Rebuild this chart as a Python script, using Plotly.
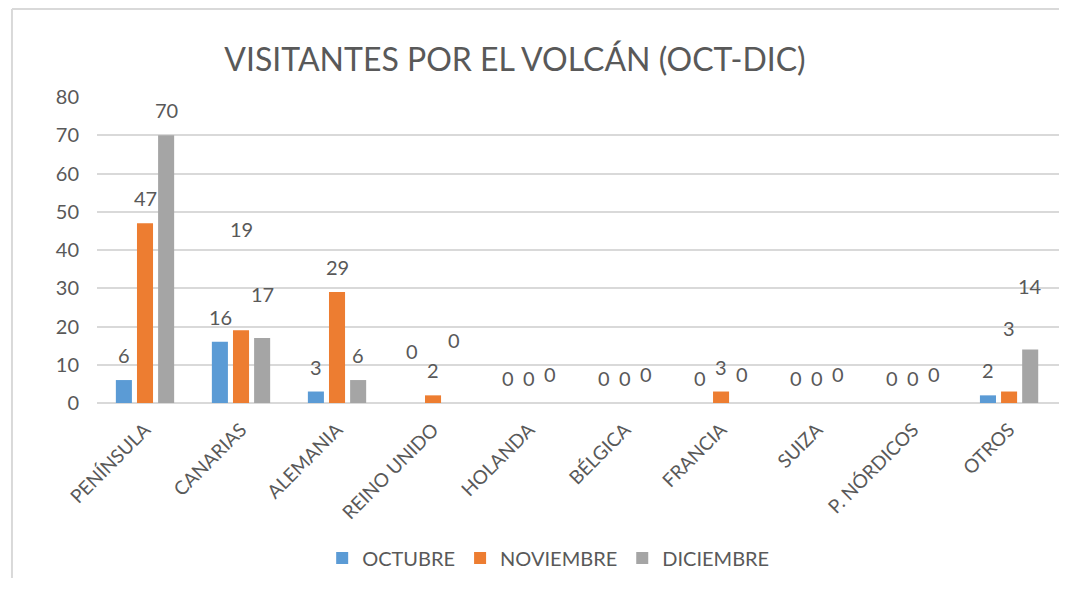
import plotly.graph_objects as go

categories = ["PENÍNSULA", "CANARIAS", "ALEMANIA", "REINO UNIDO", "HOLANDA",
              "BÉLGICA", "FRANCIA", "SUIZA", "P. NÓRDICOS", "OTROS"]
octubre = [6, 16, 3, 0, 0, 0, 0, 0, 0, 2]
noviembre = [47, 19, 29, 2, 0, 0, 3, 0, 0, 3]
diciembre = [70, 17, 6, 0, 0, 0, 0, 0, 0, 14]
y_ticks = [0, 10, 20, 30, 40, 50, 60, 70, 80]

series = [("OCTUBRE", octubre, "#5b9bd5"),
          ("NOVIEMBRE", noviembre, "#ed7d31"),
          ("DICIEMBRE", diciembre, "#a5a5a5")]

# extra lift (in axis units) for data labels that were dragged in the original
label_lift = {(1, 1): 20, (1, 2): 5, (3, 0): 7, (3, 2): 10,
              (9, 1): 10, (9, 2): 10, (4, 2): 1, (5, 2): 1, (7, 2): 1,
              (8, 2): 1, (6, 2): 1}

FONT = "Lato, 'Open Sans', sans-serif"
GRAY = "#595959"
BORDER = "#d9d9d9"

fig = go.Figure()
for name, vals, col in series:
    fig.add_trace(go.Bar(name=name, x=list(range(len(categories))), y=vals,
                         marker=dict(color=col, line=dict(width=0)),
                         hoverinfo="skip"))

shift = [-21, 0, 21]
for s, (name, vals, col) in enumerate(series):
    for i, v in enumerate(vals):
        fig.add_annotation(x=i, y=v + 6.5 + label_lift.get((i, s), 0),
                           text=str(v), showarrow=False, xshift=shift[s],
                           font=dict(family=FONT, size=20, color=GRAY),
                           xref="x", yref="y")

fig.update_layout(
    width=1051, height=570,
    barmode="group", bargap=0.34, bargroupgap=0.24,
    paper_bgcolor="white", plot_bgcolor="white",
    margin=dict(l=89, r=0, t=89, b=175),
    title=dict(text="VISITANTES POR EL VOLCÁN (OCT-DIC)", x=0.4824, xanchor="center",
               y=0.9088, yanchor="middle",
               font=dict(family=FONT, size=32, color=GRAY)),
    xaxis=dict(tickmode="array", tickvals=list(range(len(categories))),
               ticktext=categories, tickangle=-45, range=[-0.5, 9.52],
               showgrid=False, showline=False, zeroline=False,
               ticklabelstandoff=11,
               tickfont=dict(family=FONT, size=19, color=GRAY)),
    yaxis=dict(range=[0, 80], tickvals=y_ticks, showgrid=True,
               gridcolor=BORDER, gridwidth=2, zeroline=True,
               zerolinecolor=BORDER, zerolinewidth=2, showline=False,
               ticklabelstandoff=17,
               tickfont=dict(family=FONT, size=20, color=GRAY)),
    legend=dict(orientation="h", x=0.469, xanchor="center", y=-0.5065, yanchor="middle",
                font=dict(family=FONT, size=20, color=GRAY), itemwidth=30,
                traceorder="normal"),
    showlegend=True,
)
# chart-area frame: only the left and top edges fall inside the picture
fig.add_shape(type="line", xref="paper", yref="paper",
              x0=-0.0884, x1=-0.0884, y0=-0.5719, y1=1.2876,
              line=dict(color=BORDER, width=2), layer="below")
fig.add_shape(type="line", xref="paper", yref="paper",
              x0=-0.0884, x1=1.0, y0=1.2876, y1=1.2876,
              line=dict(color=BORDER, width=2), layer="below")

fig.write_html("out.html")
